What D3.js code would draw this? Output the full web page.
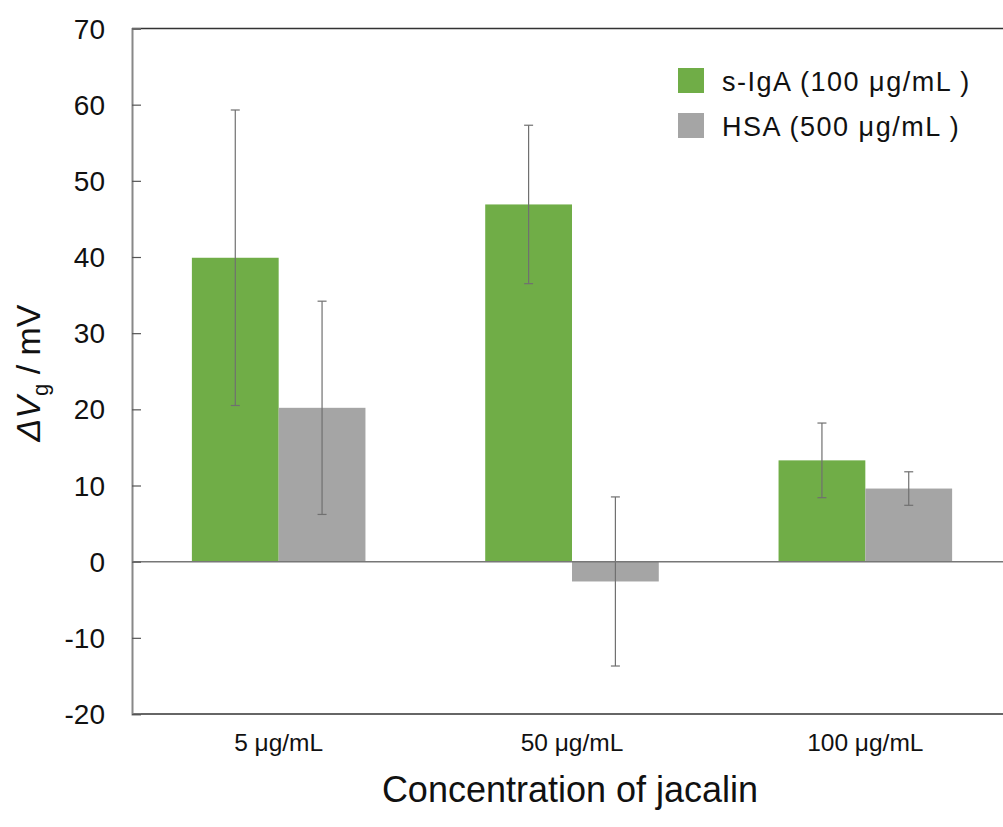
<!DOCTYPE html>
<html>
<head>
<meta charset="utf-8">
<script src="https://cdn.jsdelivr.net/npm/d3@7"></script>
<style>
  body { margin: 0; background: #fff; }
  svg { display: block; font-family: "Liberation Sans", Arial, sans-serif; }
</style>
</head>
<body>
<svg id="chart" width="1003" height="827"></svg>
<script>
// concentrations of jacalin on the x axis
const categories = ["5 μg/mL", "50 μg/mL", "100 μg/mL"];
const seriesNames = ["s-IgA (100 μg/mL )", "HSA (500 μg/mL )"];
// mean ΔVg (mV)
const igaValues = [39.9, 46.9, 13.3];
const hsaValues = [20.2, -2.6, 9.6];
// error bar half-widths (mV)
const igaErrors = [19.4, 10.4, 4.9];
const hsaErrors = [14.0, 11.1, 2.2];
const yTicks = [-20, -10, 0, 10, 20, 30, 40, 50, 60, 70];

const colors = ["#70ad47", "#a5a5a5"];

const svg = d3.select("#chart");
const plotLeft = 132, plotTop = 28.5, plotBottom = 714, plotRight = 1012;

const y = d3.scaleLinear().domain([-20, 70]).range([plotBottom, plotTop]);
const x0 = d3.scaleBand().domain(categories).range([plotLeft, plotRight]).padding(0);
const x1 = d3.scaleBand().domain(seriesNames).range([0, x0.bandwidth()])
  .paddingInner(0).paddingOuter(0.69);

const rows = categories.map((c, i) => ({
  cat: c,
  items: [
    {name: seriesNames[0], v: igaValues[i], e: igaErrors[i], color: colors[0]},
    {name: seriesNames[1], v: hsaValues[i], e: hsaErrors[i], color: colors[1]}
  ]
}));

// frame lines top / bottom
svg.append("line").attr("x1", plotLeft).attr("x2", 1003).attr("y1", plotTop).attr("y2", plotTop)
  .attr("stroke", "#333").attr("stroke-width", 1.5);
svg.append("line").attr("x1", plotLeft).attr("x2", 1003).attr("y1", plotBottom).attr("y2", plotBottom)
  .attr("stroke", "#333").attr("stroke-width", 1.5);

// bars
const groups = svg.selectAll("g.grp").data(rows).enter().append("g")
  .attr("class", "grp")
  .attr("transform", d => `translate(${x0(d.cat)},0)`);

groups.selectAll("rect").data(d => d.items).enter().append("rect")
  .attr("x", d => x1(d.name))
  .attr("width", x1.bandwidth())
  .attr("y", d => y(Math.max(0, d.v)))
  .attr("height", d => Math.abs(y(d.v) - y(0)))
  .attr("fill", d => d.color);

// zero line
svg.append("line").attr("x1", plotLeft).attr("x2", 1003).attr("y1", y(0)).attr("y2", y(0))
  .attr("stroke", "#777").attr("stroke-width", 1.5);

// error bars
const eb = groups.selectAll("g.err").data(d => d.items).enter().append("g")
  .attr("class", "err")
  .attr("stroke", "#707070").attr("stroke-width", 1.2);
const cx = d => x1(d.name) + x1.bandwidth() / 2;
eb.append("line").attr("x1", cx).attr("x2", cx)
  .attr("y1", d => y(d.v + d.e)).attr("y2", d => y(d.v - d.e));
eb.append("line").attr("x1", d => cx(d) - 4.5).attr("x2", d => cx(d) + 4.5)
  .attr("y1", d => y(d.v + d.e)).attr("y2", d => y(d.v + d.e));
eb.append("line").attr("x1", d => cx(d) - 4.5).attr("x2", d => cx(d) + 4.5)
  .attr("y1", d => y(d.v - d.e)).attr("y2", d => y(d.v - d.e));

// y axis with inward ticks
const yAxis = svg.append("g").attr("transform", `translate(${plotLeft},0)`)
  .call(d3.axisRight(y).tickValues(yTicks).tickSize(9).tickFormat(""));
yAxis.select(".domain").attr("stroke", "#888").attr("stroke-width", 2);
yAxis.selectAll(".tick line").attr("stroke", "#555").attr("stroke-width", 1.2);

svg.append("g").selectAll("text").data(yTicks).enter().append("text")
  .attr("x", 105).attr("y", d => y(d)).attr("dy", "0.36em")
  .attr("text-anchor", "end").attr("font-size", 28).attr("fill", "#111")
  .text(d => d);

// x labels
svg.append("g").selectAll("text").data(categories).enter().append("text")
  .attr("x", d => x0(d) + x0.bandwidth() / 2).attr("y", 751)
  .attr("text-anchor", "middle").attr("font-size", 24.5).attr("fill", "#111")
  .text(d => d);

svg.append("text").attr("x", 570).attr("y", 802).attr("text-anchor", "middle")
  .attr("font-size", 36).attr("fill", "#111").text("Concentration of jacalin");

// y title
const yt = svg.append("text").attr("transform", "translate(40,373) rotate(-90)")
  .attr("text-anchor", "middle").attr("font-size", 34).attr("fill", "#111");
yt.append("tspan").attr("font-style", "italic").text("ΔV");
yt.append("tspan").attr("font-size", 22).attr("dy", 8).text("g");
yt.append("tspan").attr("dy", -8).text(" / mV");

// legend
const legend = svg.append("g").selectAll("g").data(seriesNames).enter().append("g")
  .attr("transform", (d, i) => `translate(678,${68 + i * 45})`);
legend.append("rect").attr("width", 26).attr("height", 25).attr("fill", (d, i) => colors[i]);
legend.append("text").attr("x", 44).attr("y", 22.5).attr("font-size", 27)
  .attr("letter-spacing", 1.5).attr("fill", "#111")
  .text(d => d);
</script>
</body>
</html>
